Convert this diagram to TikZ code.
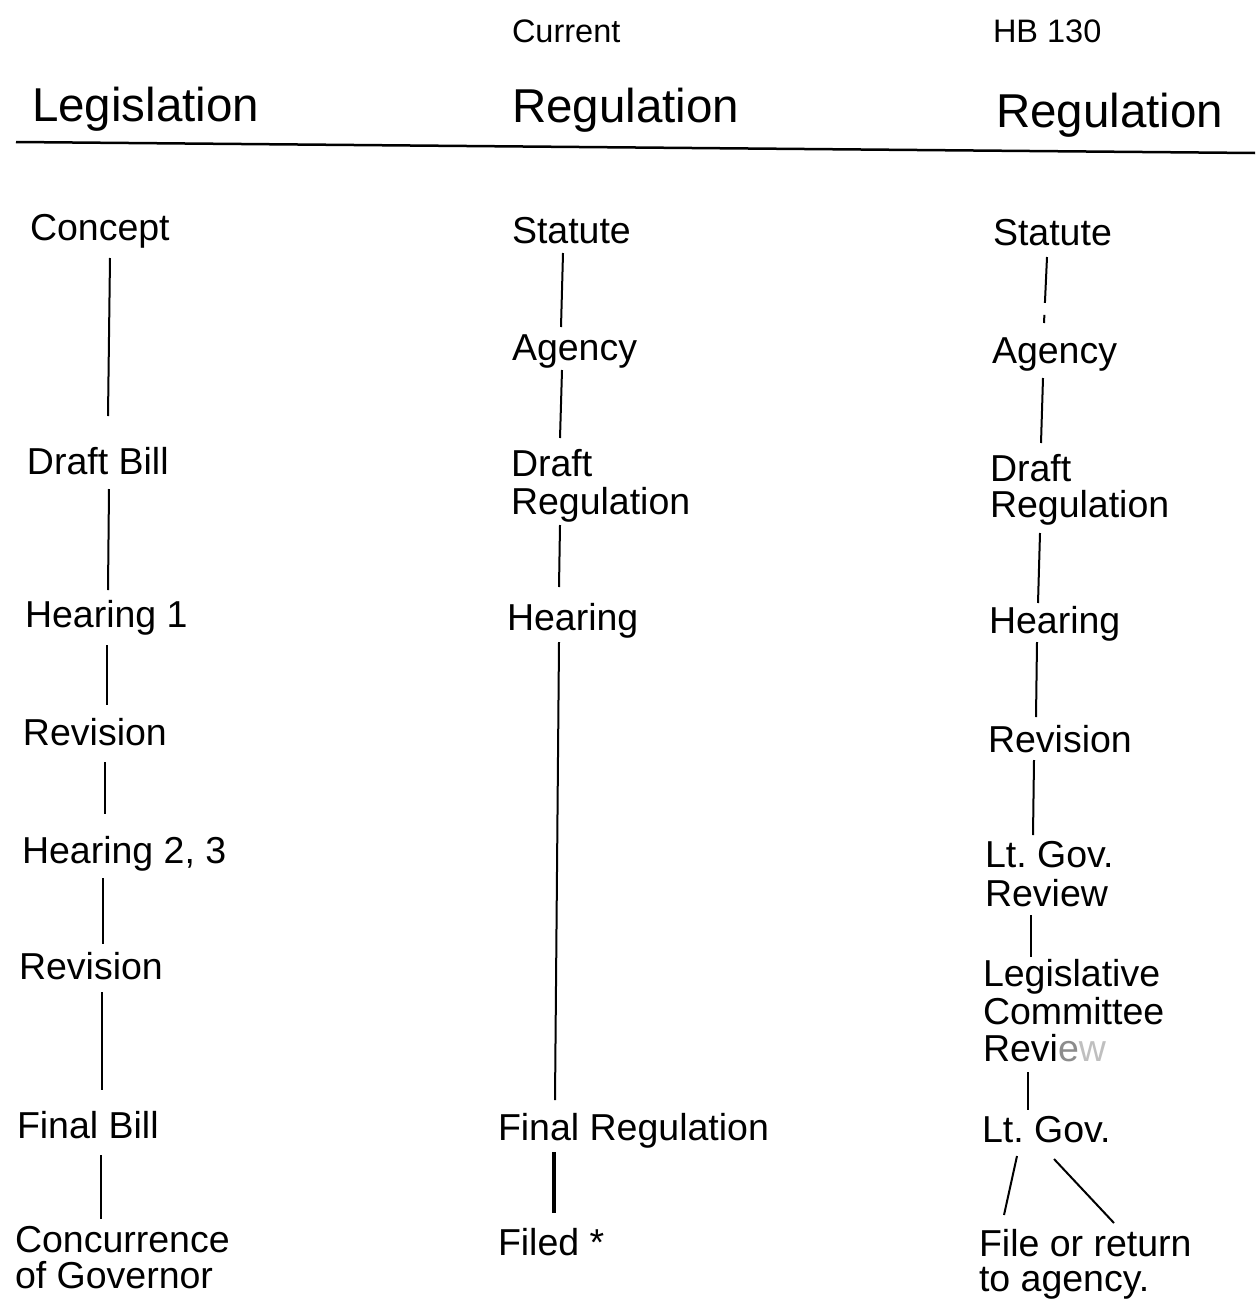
\documentclass[tikz,border=0pt]{standalone}
\usepackage{fontspec}
\setmainfont{Liberation Sans}
\frenchspacing
\begin{document}
\frenchspacing
\begin{tikzpicture}[x=1pt,y=-1pt,
  txt/.style={inner sep=0pt,outer sep=0pt,anchor=base west,font=\fontsize{37.5}{38}\selectfont\frenchspacing},
  mtxt/.style={inner sep=0pt,outer sep=0pt,anchor=north west,align=left,font=\fontsize{37.5}{#1}\selectfont\frenchspacing},
  head/.style={inner sep=0pt,outer sep=0pt,anchor=base west,font=\fontsize{47.5}{50}\selectfont},
  sub/.style={inner sep=0pt,outer sep=0pt,anchor=base west,font=\fontsize{32.5}{34}\selectfont},
  conn/.style={draw=black,line width=2pt},
  thickconn/.style={draw=black,line width=3.5pt}]
\useasboundingbox[fill=white] (0,0) rectangle (1255,1311);

% headers
\node[sub]  (cur) at (512,43) {Current};
\node[sub]  (hb)  at (993,43) {HB 130};
\node[head] (h1)  at (32,122) {Legislation};
\node[head] (h2)  at (512,123) {Regulation};
\node[head] (h3)  at (996,128) {Regulation};
\coordinate (ruleL) at (16,142);
\coordinate (ruleR) at (1255,153);
\draw[line width=2.5pt] (ruleL) -- (ruleR);

% Legislation column
\node[txt] (L1) at (30,240)  {Concept};
\node[txt] (L2) at (27,474)  {Draft Bill};
\node[txt] (L3) at (25,627)  {Hearing 1};
\node[txt] (L4) at (23,745)  {Revision};
\node[txt] (L5) at (22,863)  {Hearing 2, 3};
\node[txt] (L6) at (19,979)  {Revision};
\node[txt] (L7) at (17,1138) {Final Bill};
\node[mtxt=36] (L8) at (15,1226.7) {Concurrence\\of Governor};

\draw[conn] ([shift={(80,18)}]L1.base west) -- ([shift={(81,-58)}]L2.base west);
\draw[conn] ([shift={(82,15)}]L2.base west) -- ([shift={(83,-37)}]L3.base west);
\draw[conn] ([shift={(82,18)}]L3.base west) -- ([shift={(84,-40)}]L4.base west);
\draw[conn] ([shift={(82,17)}]L4.base west) -- ([shift={(83,-49)}]L5.base west);
\draw[conn] ([shift={(81,15)}]L5.base west) -- ([shift={(84,-35)}]L6.base west);
\draw[conn] ([shift={(83,13)}]L6.base west) -- ([shift={(85,-48)}]L7.base west);
\draw[conn] ([shift={(84,17)}]L7.base west) -- ([shift={(86,-7.7)}]L8.north west);

% Current regulation column
\node[txt] (M1) at (512,243)  {Statute};
\node[txt] (M2) at (512,360)  {Agency};
\node[mtxt=38] (M3) at (511,449.7) {Draft\\Regulation};
\node[txt] (M4) at (507,630)  {Hearing};
\node[txt] (M5) at (498,1140) {Final Regulation};
\node[txt] (M6) at (498,1255) {Filed *};

\draw[conn] ([shift={(51,10)}]M1.base west) -- ([shift={(49,-33)}]M2.base west);
\draw[conn] ([shift={(50,10)}]M2.base west) -- ([shift={(49,-11.7)}]M3.north west);
\draw[conn] ([shift={(49,75.3)}]M3.north west) -- ([shift={(52,-43)}]M4.base west);
\draw[conn] ([shift={(52,12)}]M4.base west) -- ([shift={(57,-40)}]M5.base west);
\draw[thickconn] ([shift={(56,12)}]M5.base west) -- ([shift={(56,-42)}]M6.base west);

% HB 130 regulation column
\node[txt] (R1) at (993,245)  {Statute};
\node[txt] (R2) at (992,363)  {Agency};
\node[mtxt=36] (R3) at (990,454.7) {Draft\\Regulation};
\node[txt] (R4) at (989,633)  {Hearing};
\node[txt] (R5) at (988,752)  {Revision};
\node[mtxt=39] (R6) at (985,841.7) {Lt. Gov.\\Review};
\node[mtxt=37.5] (R7) at (983,959.7) {Legislative\\Committee\\Revi{\color{black!45}e}{\color{black!25}w}};
\node[txt] (R8) at (982,1142) {Lt. Gov.};
\node[mtxt=35] (R9) at (979,1229.7) {File or return\\to agency.};

\draw[conn,dash pattern=on 46pt off 12pt on 9pt off 100pt] ([shift={(54,12)}]R1.base west) -- ([shift={(52,-40)}]R2.base west);
\draw[conn] ([shift={(51,15)}]R2.base west) -- ([shift={(51,-11.7)}]R3.north west);
\draw[conn] ([shift={(50,78.3)}]R3.north west) -- ([shift={(49,-30)}]R4.base west);
\draw[conn] ([shift={(48,9)}]R4.base west) -- ([shift={(48,-35)}]R5.base west);
\draw[conn] ([shift={(46,8)}]R5.base west) -- ([shift={(48,-6.7)}]R6.north west);
\draw[conn] ([shift={(46,73.3)}]R6.north west) -- ([shift={(48,-2.7)}]R7.north west);
\draw[conn] ([shift={(45,112.3)}]R7.north west) -- ([shift={(46,-32)}]R8.base west);
\draw[conn] ([shift={(35,14)}]R8.base west) -- ([shift={(25,-14.7)}]R9.north west);
\draw[conn] ([shift={(72,17)}]R8.base west) -- ([shift={(135,-6.7)}]R9.north west);
\end{tikzpicture}
\end{document}
